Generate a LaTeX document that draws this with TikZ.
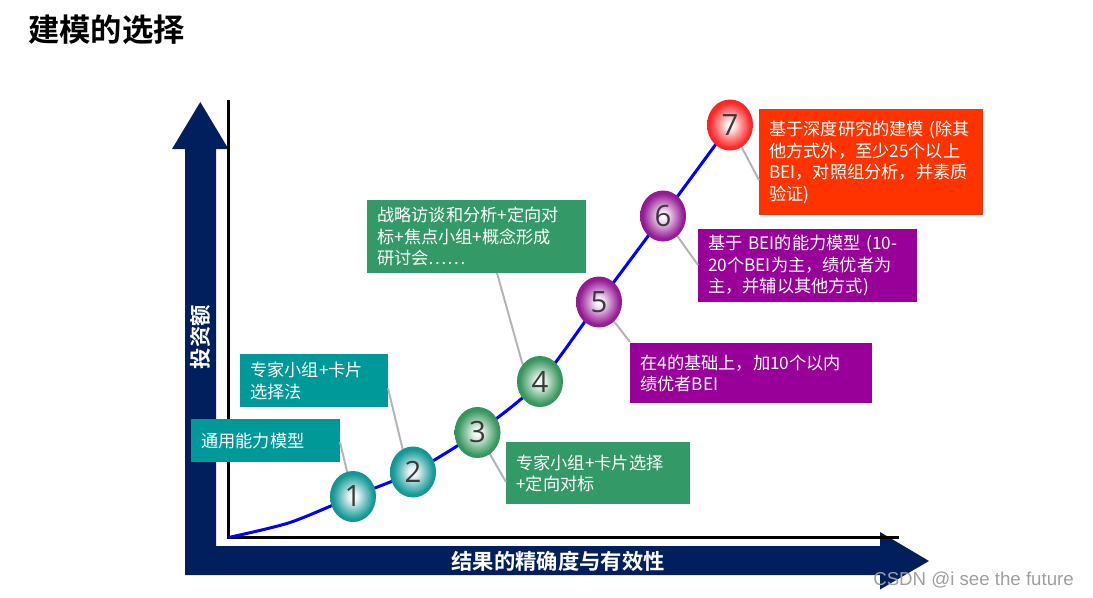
\documentclass[tikz,border=0pt]{standalone}
\usepackage{fontspec}
\setmainfont{Noto Sans CJK SC}
\newfontfamily\cjkb{Noto Sans CJK SC Bold}
\newfontfamily\numf{Open Sans}
\newfontfamily\wmf{Liberation Sans}
\usetikzlibrary{shapes.geometric}
\definecolor{navy}{HTML}{001F5C}
\definecolor{tealbox}{HTML}{009999}
\definecolor{greenbox}{HTML}{339966}
\definecolor{purplebox}{HTML}{990099}
\definecolor{redbox}{HTML}{FF3300}
\definecolor{tealball}{HTML}{159A98}
\definecolor{greenball}{HTML}{389860}
\definecolor{purpleball}{HTML}{961C96}
\definecolor{redball}{HTML}{FF2828}
\definecolor{numgray}{HTML}{3A3A3A}
\definecolor{conngray}{HTML}{B4B4B4}
\newcommand{\myballshade}[2]{%
  \pgfdeclareradialshading{#1}{\pgfpoint{0bp}{0bp}}{%
    color(0bp)=(white); color(5bp)=(white!88!#2); color(14bp)=(white!40!#2);
    color(22bp)=(#2); color(25bp)=(#2!95!black); color(50bp)=(#2!95!black)}}
\myballshade{shteal}{tealball}
\myballshade{shgreen}{greenball}
\myballshade{shpurple}{purpleball}
\myballshade{shred}{redball}
\tikzset{
  box/.style={anchor=north west, inner xsep=7.5pt, inner ysep=0pt, text=white,
    font=\fontsize{12.9}{16.1}\selectfont, align=left},
  ball/.style={ellipse, minimum width=34.5pt, minimum height=38.25pt, inner sep=0pt,
    font=\numf\fontsize{22}{22}\selectfont, text=numgray},
  conn/.style={draw=conngray, line width=1.5pt},
  axisline/.style={draw=black, line width=2.25pt},
  curve/.style={draw=blue, line width=2.25pt},
  axislabel/.style={text=white, font=\cjkb\fontsize{16}{16}\selectfont, inner sep=0pt}
}
\begin{document}
\begin{tikzpicture}[x=0.75pt,y=-0.75pt]
\useasboundingbox (0,0) rectangle (1093,597);
% title
\node[anchor=west, inner sep=0pt, font=\cjkb\fontsize{23.5}{23.5}\selectfont] (title) at (28,30) {建模的选择};
% big arrows
\fill[navy] (185,546) -- (185,149) -- (172,149) -- (200.3,102) -- (228.5,149) -- (216,149) -- (216,546) -- cycle;
\fill[navy] (185,546) -- (880,546) -- (880,532) -- (929,561) -- (880,589.5) -- (880,575) -- (185,575) -- cycle;
\node[axislabel] (xlab) at (558,561) {结果的精确度与有效性};
\node[axislabel, rotate=90] (ylab) at (200.5,337) {投资额};
% axes lines
\coordinate (O) at (228.5,537.5);
\coordinate (ytop) at (228.5,100);
\coordinate (xend) at (899,537.5);
\draw[axisline] (ytop) -- (O) -- (xend);
% ball positions
\coordinate (p0) at (290,522.5);
\coordinate (p1) at (353,496.5);
\coordinate (p2) at (413,472);
\coordinate (p3) at (477.5,432.5);
\coordinate (p4) at (540,381.5);
\coordinate (p5) at (599,302);
\coordinate (p6) at (663,216);
\coordinate (p7) at (730,125);
\draw[curve] plot[smooth, tension=0.45] coordinates {(O) (p0) (p1) (p2) (p3) (p4) (p5) (p6) (p7)};
% boxes
\node[box, fill=tealbox, text width=96.75pt, minimum height=32.25pt] (b1) at (191,419) {\mbox{通用能力模型}};
\node[box, fill=tealbox, text width=96pt, minimum height=39.75pt] (b2) at (240,354) {\mbox{专家小组+卡片}\\\mbox{选择法}};
\node[box, fill=greenbox, text width=123pt, minimum height=46.5pt] (b3) at (506,442) {\mbox{专家小组+卡片选择}\\\mbox{+定向对标}};
\node[box, fill=greenbox, text width=149.25pt, minimum height=54.75pt] (b4) at (367,200) {\mbox{战略访谈和分析+定向对}\\\mbox{标+焦点小组+概念形成}\\\mbox{研讨会……}};
\node[box, fill=purplebox, text width=166.5pt, minimum height=45pt] (b5) at (630,343) {\mbox{在4的基础上，加10个以内}\\\mbox{绩优者BEI}};
\node[box, fill=purplebox, text width=149.25pt, minimum height=54.75pt] (b6) at (698,229) {\mbox{基于 BEI的能力模型 (10-}\\\mbox{20个BEI为主，绩优者为}\\\mbox{主，并辅以其他方式)}};
\node[box, fill=redbox, text width=153pt, minimum height=79.5pt] (b7) at (759,109) {\mbox{基于深度研究的建模 (除其}\\\mbox{他方式外，至少25个以上}\\\mbox{BEI，对照组分析，并素质}\\\mbox{验证)}};
% connectors (drawn under balls)
\coordinate (q1) at (340,442);
\coordinate (q2) at (388,388);
\coordinate (r2) at (404,455);
\coordinate (q3) at (506,482);
\coordinate (q4) at (497,273);
\coordinate (r4) at (527,380);
\coordinate (q5) at (630,342);
\coordinate (q6) at (698,265);
\coordinate (q7) at (759,180);
\draw[conn] (q1) -- (p1);
\draw[conn] (q2) -- (r2);
\draw[conn] (p3) -- (q3);
\draw[conn] (q4) -- (r4);
\draw[conn] (p5) -- (q5);
\draw[conn] (p6) -- (q6);
\draw[conn] (p7) -- (q7);
% balls
\node[ball, shading=shteal] (c1) at (p1) {1};
\node[ball, shading=shteal] (c2) at (p2) {2};
\node[ball, shading=shgreen] (c3) at (p3) {3};
\node[ball, shading=shgreen] (c4) at (p4) {4};
\node[ball, shading=shpurple] (c5) at (p5) {5};
\node[ball, shading=shpurple] (c6) at (p6) {6};
\node[ball, shading=shred] (c7) at (p7) {7};
% watermark
\node[anchor=west, inner sep=0pt, text=black!38, font=\wmf\fontsize{14}{14}\selectfont] (wm) at (873,580) {CSDN @i see the future};
\end{tikzpicture}
\end{document}
